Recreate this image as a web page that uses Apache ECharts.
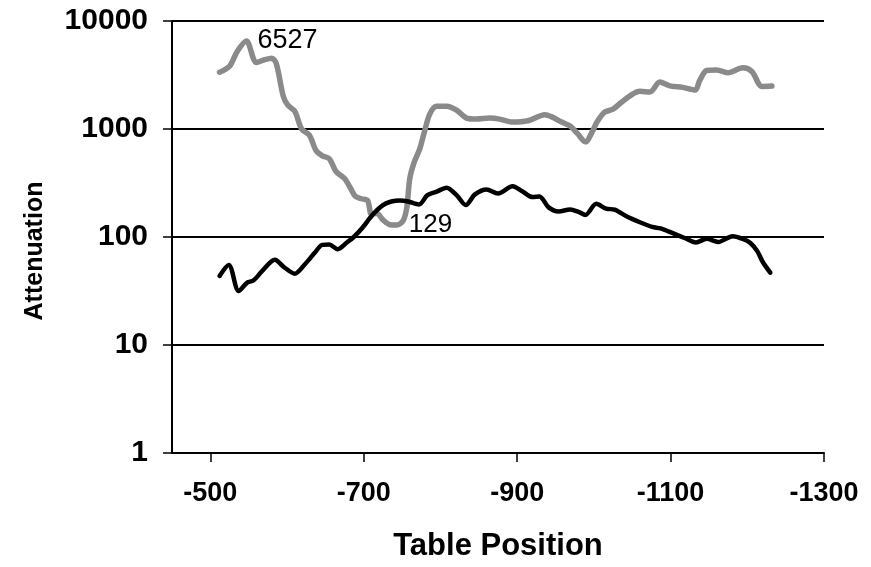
<!DOCTYPE html>
<html>
<head>
<meta charset="utf-8">
<script src="https://cdn.jsdelivr.net/npm/echarts@6/dist/echarts.min.js"></script>
<style>
html,body{margin:0;padding:0;background:#fff;}
#chart{width:871px;height:567px;}
</style>
</head>
<body>
<div id="chart"></div>
<script>
// Table positions and attenuation values
const grayX = [-512,-525,-535,-547,-560,-571,-580,-586,-595,-601,-610,-619,-629,-638,-646,-655,-664,-675,-683,-689,-697,-705,-710,-717,-725,-734,-743,-751,-756,-760,-766,-773,-779,-786,-795,-808,-821,-834,-847,-864,-877,-894,-914,-936,-946,-958,-969,-979,-989,-999,-1004,-1014,-1025,-1036,-1050,-1060,-1073,-1086,-1099,-1116,-1132,-1138,-1147,-1160,-1175,-1194,-1206,-1219,-1232];
const grayY = [3355,3808,5227,6527,4118,4387,4529,4032,2021,1661,1463,1000,881,628,565,531,403,348,281,238,226,218,163,166,144,130,129,140,185,348,498,655,938,1373,1625,1625,1494,1262,1235,1262,1235,1159,1192,1358,1288,1159,1065,900,760,979,1159,1432,1526,1769,2095,2232,2200,2717,2506,2428,2294,2815,3477,3514,3313,3683,3405,2480,2496];

const blackX = [-512,-524,-537,-548,-556,-568,-584,-597,-610,-623,-636,-646,-655,-666,-678,-687,-698,-711,-725,-736,-747,-758,-772,-783,-795,-808,-821,-833,-845,-860,-875,-894,-906,-920,-929,-941,-954,-969,-980,-989,-1003,-1016,-1027,-1043,-1060,-1076,-1087,-1102,-1119,-1133,-1147,-1162,-1181,-1194,-1204,-1213,-1220,-1230];
const blackY = [43.6,55.0,31.6,37.8,39.5,48.8,61.5,51.9,45.8,55.7,71.3,84.5,85.0,77.1,89.0,100,121,159,197,213,218,213,200,244,263,286,244,198,248,276,253,295,267,234,237,188,172,180,171,160,203,183,179,155,137,124,120,109,97.3,89.0,96.3,90.0,101.5,95.9,88.1,74.0,59.0,46.7];

const xTicks = [-500,-700,-900,-1100,-1300];
const xTitle = 'Table Position';
const yTitle = 'Attenuation';

const FONT = '"Liberation Sans", Arial, Helvetica, sans-serif';

function pairs(xs, ys){ return xs.map((x,i)=>[x, ys[i]]); }

const chart = echarts.init(document.getElementById('chart'), null, {renderer:'canvas'});
chart.setOption({
  backgroundColor:'#ffffff',
  animation:false,
  grid:{left:172, right:47, top:21, bottom:110, containLabel:false},
  xAxis:{
    type:'value', inverse:true, min:-1300, max:-450,
    name:xTitle, nameLocation:'middle', nameGap:78,
    nameTextStyle:{fontFamily:FONT, fontWeight:'bold', fontSize:31, color:'#000'},
    axisLine:{show:true, lineStyle:{color:'#000', width:2}},
    axisTick:{show:true, length:9, inside:false, customValues:xTicks, lineStyle:{color:'#000', width:1.5}},
    axisLabel:{customValues:xTicks, margin:27, formatter:v=>String(v), fontFamily:FONT, fontWeight:'bold', fontSize:27, color:'#000'},
    splitLine:{show:false}
  },
  yAxis:{
    type:'log', logBase:10, min:1, max:10000,
    name:yTitle, nameLocation:'middle', nameGap:124, nameRotate:90,
    nameTextStyle:{fontFamily:FONT, fontWeight:'bold', fontSize:25, color:'#000', padding:[0,28,0,0]},
    axisLine:{show:true, lineStyle:{color:'#000', width:2}},
    axisTick:{show:true, length:9, lineStyle:{color:'#000', width:1.5}},
    axisLabel:{margin:24, formatter:v=>String(Math.round(v)), fontFamily:FONT, fontWeight:'bold', fontSize:30, color:'#000'},
    splitLine:{show:true, lineStyle:{color:'#000', width:2}}
  },
  series:[
    {
      type:'line', name:'gray', data:pairs(grayX, grayY),
      showSymbol:false, smooth:0.3,
      lineStyle:{color:'#8a8a8a', width:5.5, cap:'round', join:'round'},
      markPoint:{
        symbol:'circle', symbolSize:0,
        data:[
          {type:'max', valueDim:'y', label:{show:true, position:'right', distance:11, formatter:p=>String(Math.round(p.value)), fontFamily:FONT, fontSize:27, color:'#000'}},
          {type:'min', valueDim:'y', label:{show:true, position:'right', distance:12, formatter:p=>String(Math.round(p.value)), fontFamily:FONT, fontSize:26, color:'#000'}}
        ]
      },
      z:2
    },
    {
      type:'line', name:'black', data:pairs(blackX, blackY),
      showSymbol:false, smooth:0.3,
      lineStyle:{color:'#000000', width:4.5, cap:'round', join:'round'},
      z:3
    }
  ]
});
</script>
</body>
</html>
